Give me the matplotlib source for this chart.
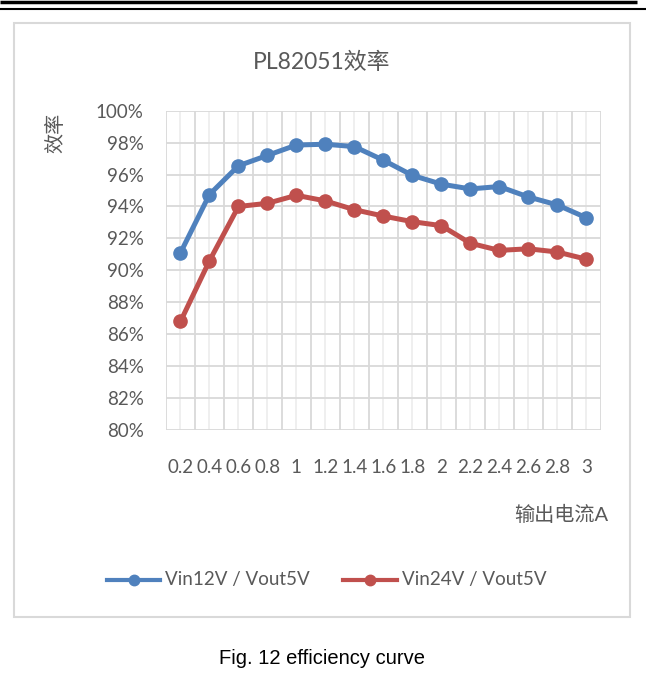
import matplotlib
matplotlib.use("Agg")
import matplotlib.pyplot as plt
from matplotlib.lines import Line2D
from matplotlib.patches import Rectangle
from matplotlib.ticker import MultipleLocator, FuncFormatter

# ---- data ----
currents = ["0.2", "0.4", "0.6", "0.8", "1", "1.2", "1.4", "1.6", "1.8", "2",
            "2.2", "2.4", "2.6", "2.8", "3"]
eff_12v = [91.1, 94.75, 96.55, 97.2, 97.85, 97.9, 97.75, 96.9, 95.95, 95.4,
           95.1, 95.25, 94.6, 94.1, 93.3]
eff_24v = [86.8, 90.6, 94.0, 94.2, 94.7, 94.35, 93.8, 93.4, 93.05, 92.8,
           91.7, 91.25, 91.35, 91.15, 90.7]
series_names = ["Vin12V / Vout5V", "Vin24V / Vout5V"]
title = "PL82051效率"
ylabel = "效率"
xlabel = "输出电流A"
caption = "Fig. 12 efficiency curve"

W, H = 646, 680
FONT = ["Lato", "Noto Sans CJK SC", "DejaVu Sans"]
plt.rcParams["font.family"] = FONT
GRAY = "#595959"
BLUE = "#4F81BD"
RED = "#C0504D"

fig = plt.figure(figsize=(W / 100, H / 100), dpi=100)

def fx(px):
    return px / W

def fy(py):
    return 1 - py / H

# page decoration lines at top
fig.add_artist(Line2D([0, fx(637)], [fy(1.7), fy(1.7)], color="black", lw=2.5,
                      transform=fig.transFigure, solid_capstyle="butt"))
fig.add_artist(Line2D([0, 1], [fy(9.2), fy(9.2)], color="black", lw=1.5,
                      transform=fig.transFigure, solid_capstyle="butt"))

# chart border box
fig.add_artist(Rectangle((fx(14), fy(617)), fx(630) - fx(14), fy(23) - fy(617),
                         transform=fig.transFigure, fill=False, edgecolor="#D9D9D9", lw=1.5))

ax = fig.add_axes([fx(166), fy(430), fx(600.7) - fx(166), fy(110.7) - fy(430)])
n = len(currents)
x = list(range(n))

ax.set_xlim(-0.5, n - 0.5)
ax.set_ylim(80, 100)
ax.yaxis.set_major_locator(MultipleLocator(2))
ax.yaxis.set_major_formatter(FuncFormatter(lambda v, p: f"{v:.0f}%"))
ax.set_xticks(x)
ax.set_xticklabels(currents)

# gridlines: boundaries (darker), category centers (lighter)
for i in range(n):
    ax.axvline(i, color="#EEEEEE", lw=1.3, zorder=0)
for i in range(n + 1):
    ax.axvline(i - 0.5, color="#D9D9D9", lw=1.3, zorder=0.5)
for v in range(80, 101, 2):
    ax.axhline(v, color="#D9D9D9", lw=1.3, zorder=0.5)

for s in ax.spines.values():
    s.set_visible(False)
ax.tick_params(axis="both", which="both", length=0, labelsize=13.5, labelcolor=GRAY)
ax.tick_params(axis="y", pad=16)
ax.tick_params(axis="x", pad=21)

l1, = ax.plot(x, eff_12v, color=BLUE, lw=3.6, marker="o", ms=9.5, zorder=3)
l2, = ax.plot(x, eff_24v, color=RED, lw=3.6, marker="o", ms=9.5, zorder=3)

fig.text(fx(322), fy(62), title, ha="center", va="center", fontsize=16.5, color=GRAY)
fig.text(fx(55), fy(133), ylabel, ha="center", va="center", rotation=90, fontsize=14.5, color=GRAY)
fig.text(fx(608), fy(514), xlabel, ha="right", va="center", fontsize=14.5, color=GRAY)

# legend drawn manually
for (x0, x1, c, name) in [(107, 160, BLUE, series_names[0]), (343, 397, RED, series_names[1])]:
    fig.add_artist(Line2D([fx(x0), fx(x1)], [fy(580), fy(580)], color=c, lw=3.0,
                          transform=fig.transFigure))
    fig.add_artist(Line2D([fx((x0 + x1) / 2)], [fy(580)], color=c, marker="o", ms=7.5,
                          transform=fig.transFigure))
    fig.text(fx(x1 + 5), fy(580), name, ha="left", va="center", fontsize=13.5, color=GRAY)

fig.text(fx(322), fy(658), caption, ha="center", va="center", fontsize=14.5,
         family=["Liberation Sans"], color="black")

fig.savefig("out.png", dpi=100)
